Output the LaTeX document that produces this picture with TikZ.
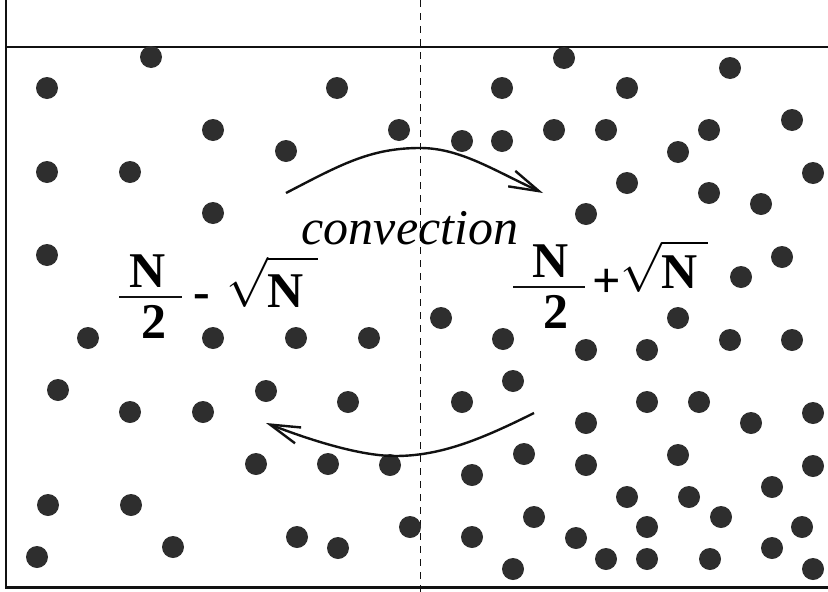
\documentclass[tikz,border=0pt]{standalone}
\usepackage{fix-cm}
\usepackage{amsmath}
\usepackage{fontspec}
\setmainfont{Liberation Serif}
\usetikzlibrary{arrows.meta}
\definecolor{ink}{HTML}{111111}
\definecolor{bead}{HTML}{2E2E2E}
\tikzset{
  wall/.style={draw=ink,line width=2pt},
  divider/.style={draw=ink,line width=1pt,dash pattern=on 7pt off 6pt},
  particle/.style={fill=bead},
  flow/.style={draw=ink,line width=2.4pt,-{Straight Barb[length=30pt,width=17pt]}},
  fracbar/.style={draw=ink,line width=2pt},
  bigsym/.style={inner sep=0pt,font=\fontsize{50}{60}\selectfont\bfseries},
  bigword/.style={inner sep=0pt,font=\fontsize{50}{60}\selectfont\itshape}
}

\begin{document}
\begin{tikzpicture}[x=1pt,y=-1pt]
  \useasboundingbox (0,0) rectangle (828,592);
  % container and the dividing plane
  \draw[wall] (6,0) -- (6,587);
  \draw[wall] (5,47) -- (828,47);
  \draw[wall,line width=3pt] (5,587) -- (828,587);
  \draw[divider] (420.5,0) -- (420.5,592);

  % particles
  \foreach \px/\py in {151/57,47/88,337/88,213/130,399/130,286/151,47/172,130/172,213/213,47/255,
    88/338,213/338,296/338,369/338,58/390,130/412,203/412,266/391,348/402,
    256/464,328/464,390/465,48/505,131/505,410/527,297/537,338/548,173/547,37/557,
    564/58,730/68,502/88,627/88,462/141,502/141,554/130,606/130,709/130,792/120,
    678/152,627/183,813/173,709/193,761/204,586/214,782/257,741/277,
    441/318,503/339,586/350,647/350,678/318,730/340,792/340,513/381,462/402,
    586/423,647/402,699/402,751/423,813/413,524/454,472/475,586/465,678/455,
    813/466,772/487,627/497,689/497,721/517,534/517,472/537,576/538,647/527,
    802/527,606/559,647/559,710/559,772/548,813/569,513/569}
    \fill[particle] (\px,\py) circle (11pt);

  % convection arrows
  \coordinate (upStart) at (286,193);
  \coordinate (upTop) at (420,148);
  \coordinate (upEnd) at (543,193);
  \coordinate (lowStart) at (534,413);
  \coordinate (lowBottom) at (395,456);
  \coordinate (lowEnd) at (266,423);
  \draw[flow] (upStart) .. controls (340,165) and (370,148) .. (upTop)
    .. controls (460,148) and (493,170) .. (upEnd);
  \draw[flow] (lowStart) .. controls (480,440) and (440,456) .. (lowBottom)
    .. controls (360,456) and (310,440) .. (lowEnd);

  % labels
  \node[bigword,anchor=base] (conv) at (410,244) {convection};
  % left half: N/2 - sqrt N
  \node[bigsym,anchor=base] (numL) at (147.5,287) {N};
  \draw[fracbar] (119,297) -- (182,297);
  \node[bigsym,anchor=base] (denL) at (154,338) {2};
  \node[bigsym,anchor=base] (minusL) at (201.5,308) {-};
  \node[bigsym,anchor=base east] (rootL) at (318,307)
    {$\displaystyle\sqrt{\mbox{N}\rule{0pt}{40pt}\hspace{14pt}}$};
  % right half: N/2 + sqrt N
  \node[bigsym,anchor=base] (numR) at (551,277) {N};
  \draw[fracbar] (513,287) -- (585,287);
  \node[bigsym,anchor=base] (denR) at (556,328) {2};
  \node[bigsym,anchor=base] (plusR) at (607,297.5) {+};
  \node[bigsym,anchor=base east] (rootR) at (708,288)
    {$\displaystyle\sqrt{\mbox{N}\hspace{10pt}}$};
\end{tikzpicture}
\end{document}
